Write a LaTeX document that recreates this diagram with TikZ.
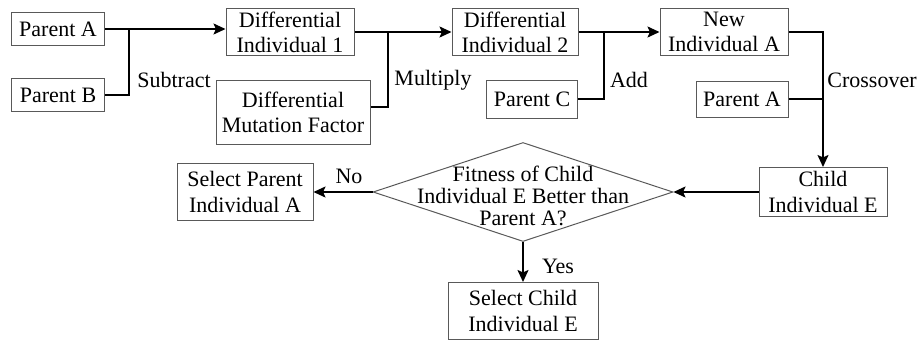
\documentclass[tikz,border=0pt]{standalone}
\usepackage{fontspec}
\setmainfont{Liberation Serif}
\usetikzlibrary{arrows.meta,shapes.geometric}

\begin{document}
\begin{tikzpicture}[x=0.5pt, y=-0.5pt,
  font = \rmfamily\fontsize{11}{12.6}\selectfont,
  box/.style     = { draw=black!65, line width=0.5pt, inner sep=0pt, align=center },
  decision/.style = { diamond, draw=black!65, line width=0.5pt, inner sep=0pt,
                      minimum width=150pt, minimum height=49.5pt },
  link/.style    = { line width=0.8pt },
  flow/.style    = { link, -{Stealth[length=6pt, width=5.5pt, inset=1.2pt]} },
  oplabel/.style = { inner sep=0pt }]
  \useasboundingbox (0,0) rectangle (921,344);
  % top row
  \node [box, minimum width=46.5pt, minimum height=16.5pt] (pa)  at (58,29)   {Parent A};
  \node [box, minimum width=46.5pt, minimum height=16.5pt] (pb)  at (58,95)   {Parent B};
  \node [box, minimum width=64pt,   minimum height=23.5pt] (d1)  at (290,32)  {Differential\\Individual 1};
  \node [box, minimum width=77pt,   minimum height=32pt]   (dmf) at (293,112) {Differential\\Mutation Factor};
  \node [box, minimum width=63pt,   minimum height=23.5pt] (d2)  at (515,32)  {Differential\\Individual 2};
  \node [box, minimum width=45.5pt, minimum height=19pt]   (pc)  at (532,99)  {Parent C};
  \node [box, minimum width=64pt,   minimum height=23.5pt] (na)  at (724,32)  {New\\Individual A};
  \node [box, minimum width=46pt,   minimum height=18pt]   (pa2) at (742,99)  {Parent A};
  % bottom part
  \node [box, minimum width=64pt, minimum height=24.5pt] (ce) at (823,192) {Child\\Individual E};
  \node [decision] (fit) at (523,192) {};
  \node [align=center, inner sep=0pt, font=\rmfamily\fontsize{11}{10.8}\selectfont] (fitq) at (523,196)
    {Fitness of Child\\Individual E Better than\\Parent A?};
  \node [box, minimum width=68pt, minimum height=28.5pt] (sp) at (245,192) {Select Parent\\Individual A};
  \node [box, minimum width=75pt, minimum height=28.5pt] (sc) at (523,311) {Select Child\\Individual E};
  % operation labels
  \node [oplabel] (sub)   at (174,80) {Subtract};
  \node [oplabel] (mul)   at (433,80) {Multiply};
  \node [oplabel] (add)   at (629,80) {Add};
  \node [oplabel] (cross) at (872,80) {Crossover};
  \node [oplabel] (no)    at (349,176) {No};
  \node [oplabel] (yes)   at (558,266) {Yes};
  % junction points
  \coordinate (j1) at (129,0);
  \coordinate (j2) at (388,0);
  \coordinate (j3) at (604,0);
  \coordinate (j4) at (823,0);
  % connectors
  \draw [flow] (pa.east) -- (d1.west |- pa.east);
  \draw [link] (pb.east) -- (j1 |- pb.east) -- (j1 |- pa.east);
  \draw [flow] (d1.east) -- (d2.west);
  \draw [link] (dmf.east) ++(0,-5) -- (j2 |- 0,107) -- (j2 |- d1.east);
  \draw [flow] (d2.east) -- (na.west);
  \draw [link] (pc.east) -- (j3 |- pc.east) -- (j3 |- d2.east);
  \draw [flow] (na.east) -- (j4 |- na.east) -- (ce.north);
  \draw [link] (pa2.east) -- (j4 |- pa2.east);
  \draw [flow] (ce.west) -- (fit.east);
  \draw [flow] (fit.west) -- (sp.east);
  \draw [flow] (fit.south) -- (sc.north);
\end{tikzpicture}
\end{document}
